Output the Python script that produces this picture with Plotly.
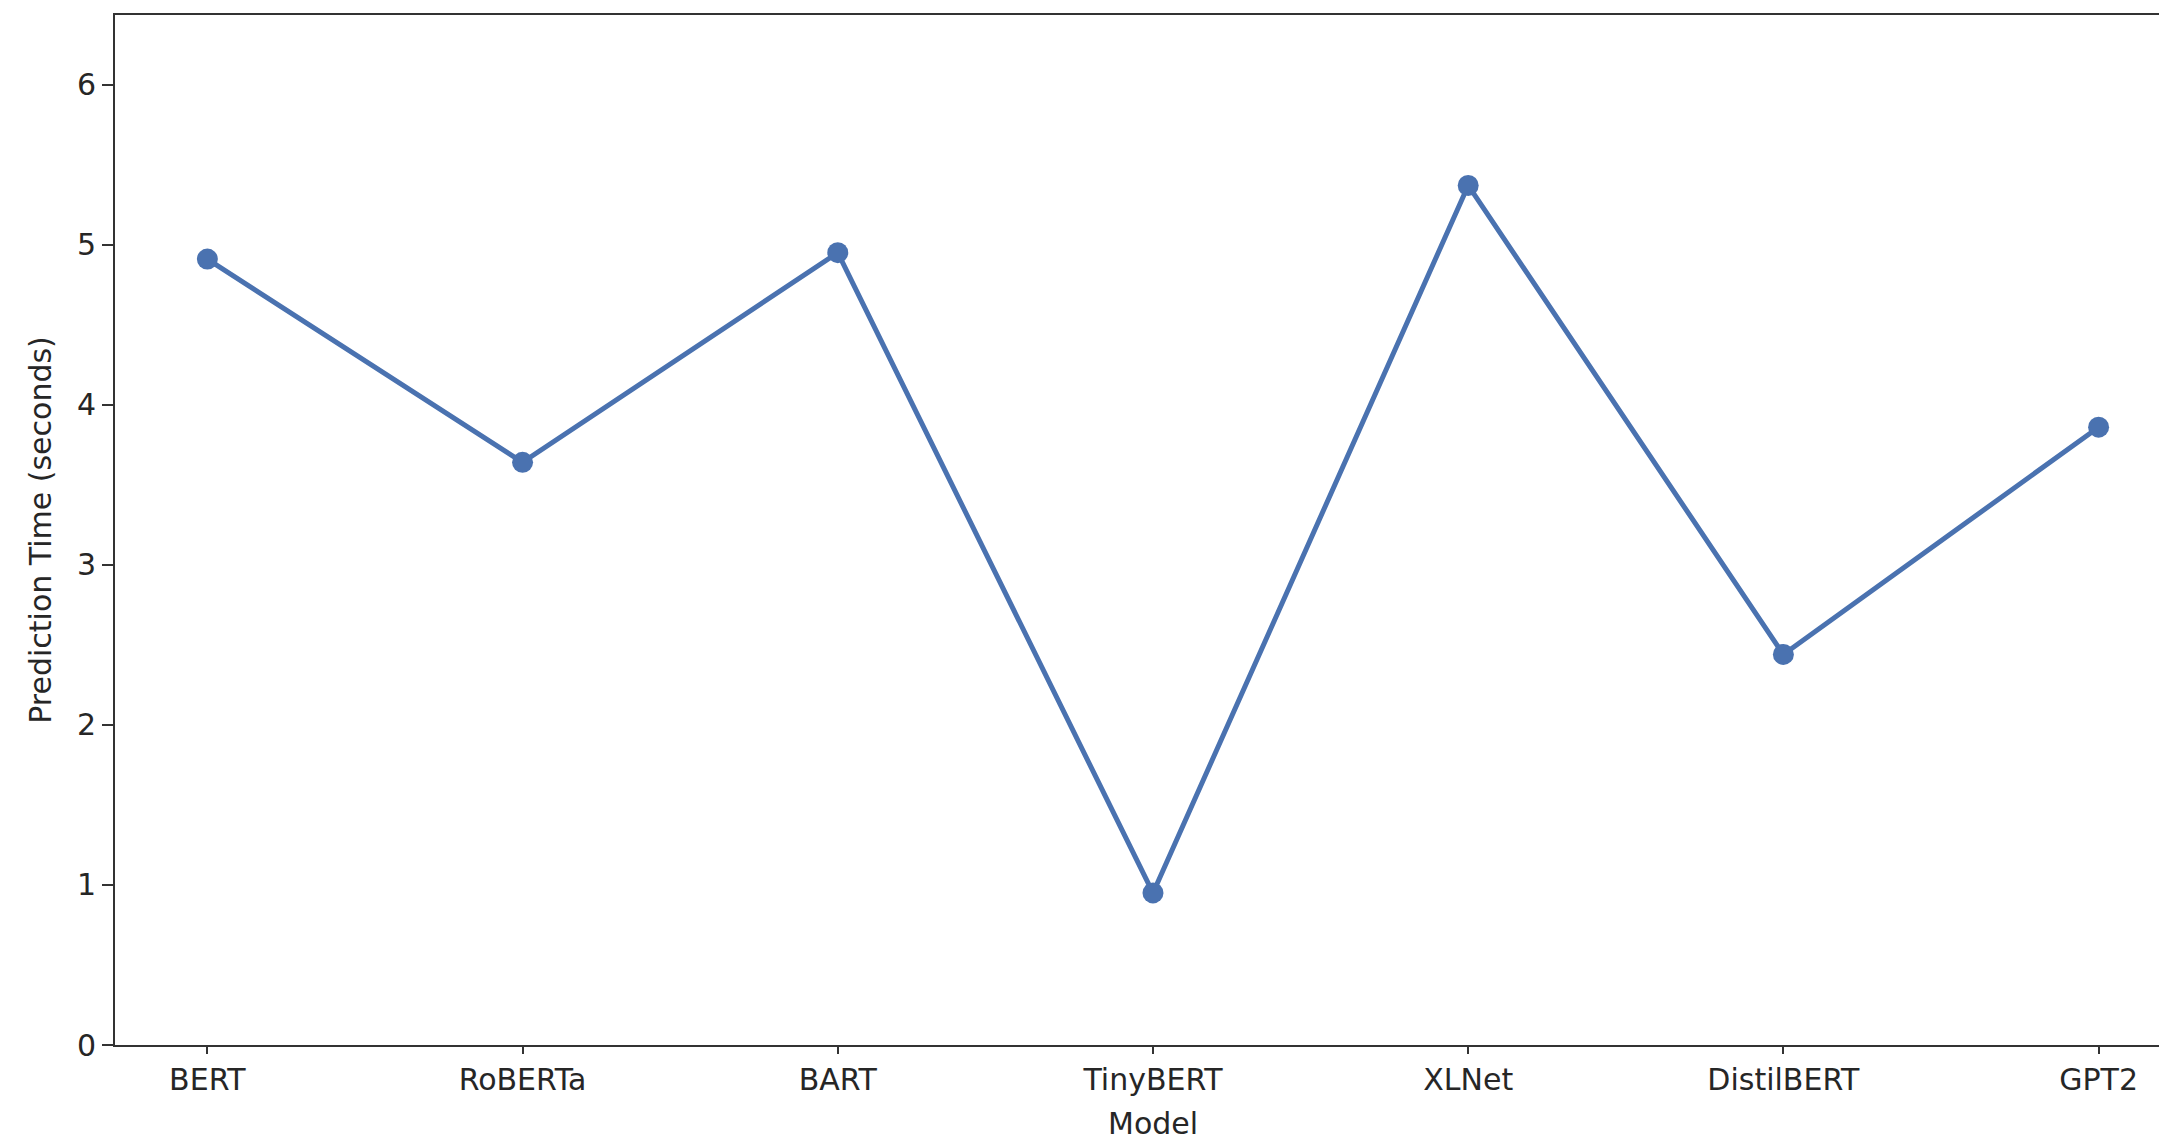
import plotly.graph_objects as go

models = ["BERT", "RoBERTa", "BART", "TinyBERT", "XLNet", "DistilBERT", "GPT2"]
pred_time = [4.91, 3.64, 4.95, 0.95, 5.37, 2.44, 3.86]
y_ticks = [0, 1, 2, 3, 4, 5, 6]

color = "#4a72b0"
font = dict(family="DejaVu Sans", size=30, color="#262626")

fig = go.Figure(
    go.Scatter(
        x=list(range(len(models))),
        y=pred_time,
        mode="lines+markers",
        line=dict(color=color, width=5),
        marker=dict(color=color, size=21),
        showlegend=False,
    )
)

fig.update_layout(
    width=2167,
    height=1137,
    margin=dict(l=107, r=8, t=5, b=100),
    plot_bgcolor="white",
    paper_bgcolor="white",
    font=font,
)

fig.update_xaxes(
    range=[-0.293, 6.217],
    tickmode="array",
    tickvals=list(range(len(models))),
    ticktext=models,
    showgrid=False,
    zeroline=False,
    showline=True,
    linecolor="#333333",
    linewidth=2,
    mirror=True,
    ticks="outside",
    ticklen=7,
    tickwidth=2,
    tickcolor="#333333",
    tickfont=font,
)

# x-axis title centred on the full (clipped) matplotlib-style axis
fig.add_annotation(
    text="Model",
    x=(len(models) - 1) / 2,
    xref="x",
    y=0,
    yref="paper",
    yanchor="middle",
    yshift=-78,
    showarrow=False,
    font=font,
)

fig.update_yaxes(
    range=[0, 6.435],
    tickmode="array",
    tickvals=y_ticks,
    ticktext=[str(v) for v in y_ticks],
    showgrid=False,
    zeroline=False,
    showline=True,
    linecolor="#333333",
    linewidth=2,
    ticks="outside",
    ticklen=11,
    tickwidth=2,
    tickcolor="#333333",
    tickfont=font,
    title=dict(text="Prediction Time (seconds)", font=font, standoff=16),
)

fig.write_html("out.html")
